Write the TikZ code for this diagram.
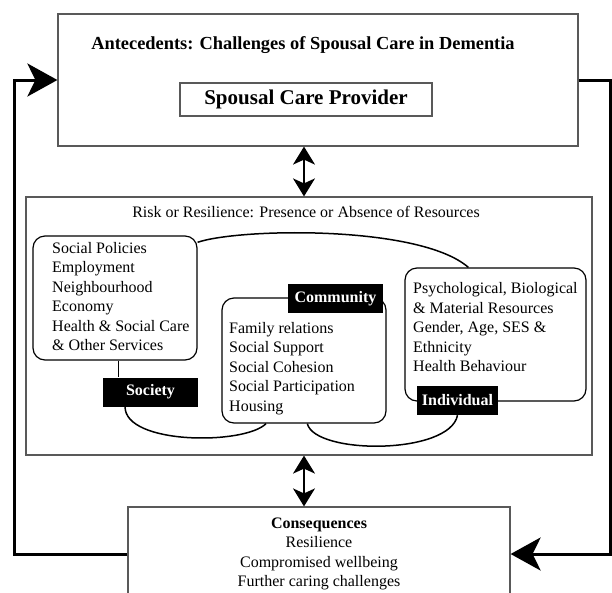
\documentclass[tikz,border=0pt]{standalone}
\usepackage{fontspec}
\setmainfont{Liberation Serif}
\usepackage{tikz}
\usetikzlibrary{arrows.meta}
\tikzstyle{outerbox} = [rectangle, draw=black!65, line width=1.2pt]
\tikzstyle{resbox} = [rectangle, rounded corners=12pt, draw=black, line width=1.2pt]
\tikzstyle{listtext} = [align=left, inner sep=0pt]
\tikzstyle{levelbox} = [rectangle, fill=black, text=white, font=\bfseries, minimum height=29pt, inner sep=0pt]
\tikzstyle{joiner} = [line width=1.5pt]
\tikzstyle{twoway} = [line width=1.5pt, <->, >={Stealth[length=18pt, width=22pt, inset=5pt]}]
\tikzstyle{feedback} = [line width=3pt, ->, >={Stealth[length=30pt, width=33pt, inset=8pt]}]

\begin{document}
\fontsize{16pt}{19.5pt}\selectfont
\begin{tikzpicture}[x=1pt, y=-1pt]
        \useasboundingbox (0,0) rectangle (612,592);
        \clip (0,0) rectangle (612,592);

        \node (antbox) [outerbox, minimum width=520pt, minimum height=132pt] at (318,80) {};
        \node (anttitle) [font=\fontsize{18.4pt}{22pt}\selectfont\bfseries] at (303,45) {Antecedents: Challenges of Spousal Care in Dementia};
        \node (provider) [outerbox, minimum width=252pt, minimum height=33pt, font=\fontsize{21pt}{25pt}\selectfont\bfseries] at (306,99.5) {Spousal Care Provider};

        \node (riskbox) [outerbox, minimum width=566pt, minimum height=258pt] at (309,326) {};
        \node (risktitle) at (306,212) {Risk or Resilience: Presence or Absence of Resources};

        \node (socbox) [resbox, minimum width=164pt, minimum height=124pt] at (115,298) {};
        \node (soclist) [listtext, anchor=west] at (52,296.5) {Social Policies\\Employment\\Neighbourhood\\Economy\\Health \& Social Care\\\& Other Services};
        \node (soclabel) [levelbox, minimum width=95pt] at (150.5,392) {Society};

        \node (combox) [resbox, minimum width=164pt, minimum height=125pt] at (304,360.5) {};
        \node (comlist) [listtext, anchor=west] at (229,368.5) {Family relations\\Social Support\\Social Cohesion\\Social Participation\\Housing};
        \node (comlabel) [levelbox, minimum width=95pt] at (335.5,298.5) {Community};

        \node (indbox) [resbox, minimum width=181pt, minimum height=133pt] at (495.5,334.5) {};
        \node (indlist) [listtext, anchor=west] at (413,327.5) {Psychological, Biological\\\& Material Resources\\Gender, Age, SES \&\\Ethnicity\\Health Behaviour};
        \node (indlabel) [levelbox, minimum width=81pt] at (457.5,400.5) {Individual};

        \node (conbox) [outerbox, minimum width=382pt, minimum height=94pt, align=center] at (319,554) {\textbf{Consequences}\\Resilience\\Compromised wellbeing\\Further caring challenges};

        \coordinate (axis) at (304,0);
        \coordinate (leftturn) at (14,300);
        \coordinate (rightturn) at (610,300);

        \draw [joiner] (socbox.34) .. controls (240,228) and (420,225) .. (indbox.112);
        \draw [joiner] (socbox.-87) -- (socbox.-87 |- soclabel.north);
        \draw [joiner] (soclabel.-150) .. controls (125,445) and (245,445) .. (combox.-121);
        \draw [joiner] (combox.-87) .. controls (315,455) and (450,455) .. (indlabel.south);

        \draw [twoway] (antbox.south -| axis) -- (riskbox.north -| axis);
        \draw [twoway] (riskbox.south -| axis) -- (conbox.north -| axis);

        \draw [feedback] (conbox.west) -| (leftturn) |- (antbox.west);
        \draw [feedback] (antbox.east) -| (rightturn) |- (conbox.east);
\end{tikzpicture}
\end{document}
